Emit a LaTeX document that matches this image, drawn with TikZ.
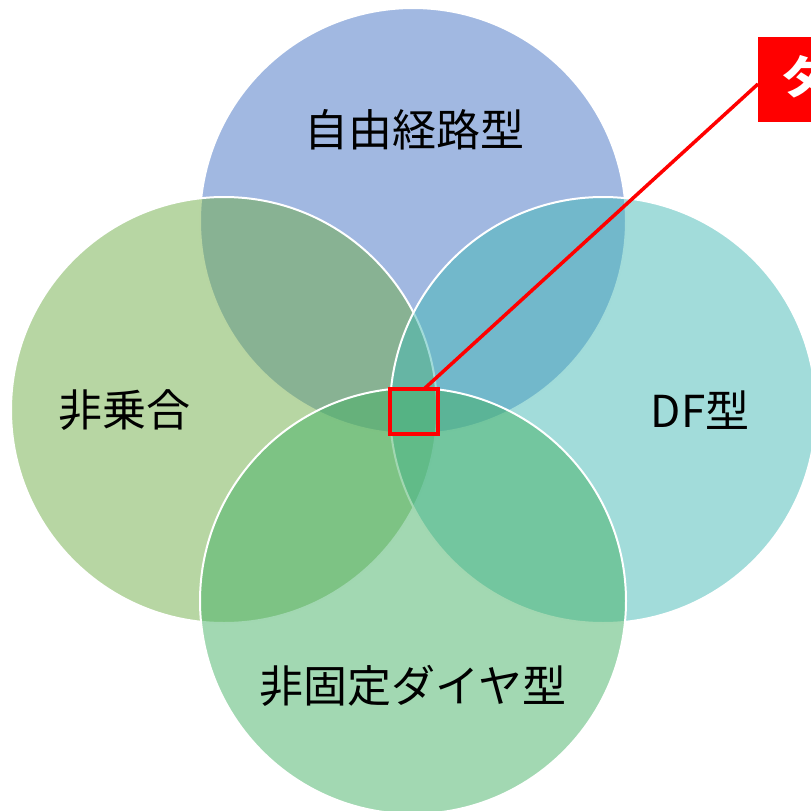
\documentclass[tikz,border=0pt]{standalone}
\usepackage{fontspec}
\newfontfamily\jp{Noto Sans CJK JP}
\definecolor{cTop}{HTML}{4472C4}
\definecolor{cLeft}{HTML}{70AD47}
\definecolor{cRight}{HTML}{45B9B5}
\definecolor{cBottom}{HTML}{45B165}
\definecolor{cRed}{HTML}{FF0000}
\tikzset{
  venn/.style={circle, minimum size=426pt, inner sep=0pt, fill opacity=0.5, draw=white, draw opacity=1, line width=2pt},
  lbl/.style={font=\jp\fontsize{44}{48}\selectfont, text=black, inner sep=0pt},
  hlbox/.style={draw=cRed, line width=4.5pt, minimum width=48pt, minimum height=45pt, inner sep=0pt},
  callout/.style={fill=cRed, inner sep=0pt},
}
\begin{document}
\begin{tikzpicture}[x=1pt,y=-1pt]
\useasboundingbox (0,0) rectangle (811,811);
\clip (0,0) rectangle (811,811);
\node[venn, fill=cTop] (top) at (413,221) {};
\node[venn, fill=cLeft] (left) at (224,410) {};
\node[venn, fill=cRight] (right) at (603,410) {};
\node[venn, fill=cBottom] (bottom) at (413,601) {};
\node[lbl] (ltop) at (414,130) {自由経路型};
\node[lbl] (lleft) at (124,410) {非乗合};
\node[lbl] (lright) at (700,410) {DF型};
\node[lbl] (lbottom) at (413,686) {非固定ダイヤ型};
\node[hlbox] (hl) at (414,411.5) {};
\path[callout] (758,37) rectangle (840,122);
\node[font=\jp\bfseries\fontsize{46}{50}\selectfont, text=white, anchor=west, inner sep=0pt] (ctext) at (781,77) {タ};
\coordinate (p) at (424,389);
\coordinate (q) at (758,84);
\draw[cRed, line width=3.5pt] (p) -- (q);
\end{tikzpicture}
\end{document}
